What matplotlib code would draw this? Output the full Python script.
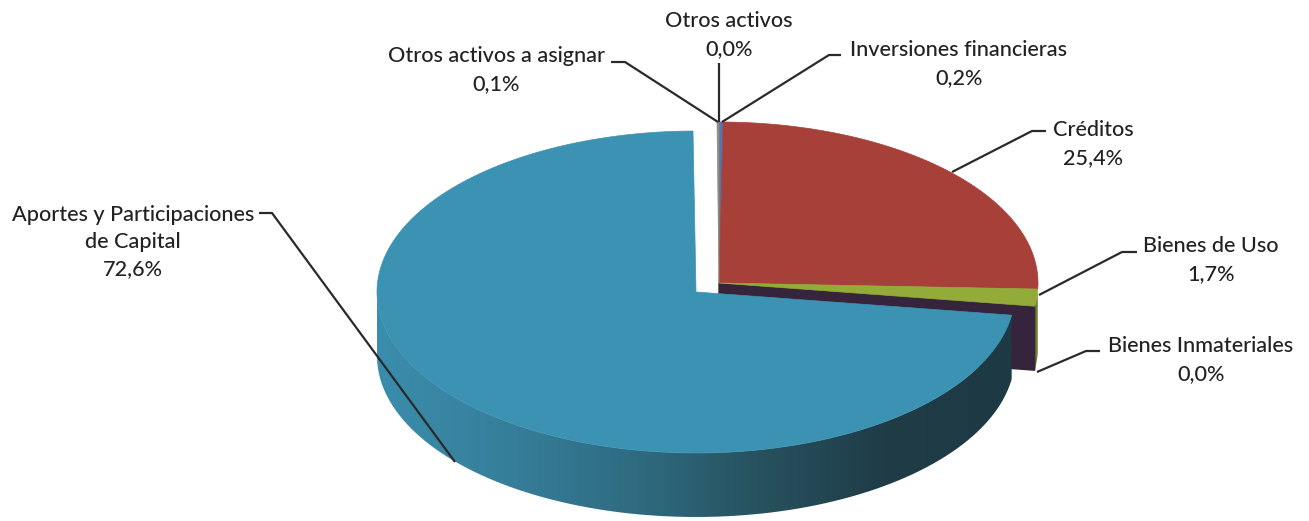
import numpy as np
import matplotlib
matplotlib.use('Agg')
import matplotlib.pyplot as plt
from matplotlib.patches import Polygon, PathPatch
from matplotlib.path import Path
from matplotlib.colors import LinearSegmentedColormap

# Values clockwise from the top of the pie
categories = ['Inversiones financieras', 'Créditos', 'Bienes de Uso', 'Bienes Inmateriales',
              'Aportes y Participaciones\nde Capital', 'Otros activos a asignar', 'Otros activos']
values = [0.2, 25.4, 1.7, 0.0, 72.6, 0.1, 0.0]
labels = ['0,2%', '25,4%', '1,7%', '0,0%', '72,6%', '0,1%', '0,0%']
colors = ['#4a78b8', '#a8403a', '#93ab38', '#35243c', '#3c92b2', '#9a8a70', '#888888']

RX, RY, DEPTH = 319, 161, 64
MAIN = (719, 283)    # centre of the small slices
BLUE = (696, 292)    # the big slice is pulled out to the lower left

plt.rcParams['font.family'] = ['Lato', 'DejaVu Sans']

fig = plt.figure(figsize=(13.09, 5.21), dpi=100)
ax = fig.add_axes([0, 0, 1, 1])
ax.set_xlim(0, 1309)
ax.set_ylim(521, 0)
ax.axis('off')


def rim(centre, start, stop, dy=0, n=200):
    # points on the ellipse, fractions in percent clockwise from the top
    t = np.radians(np.linspace(start, stop, n) * 3.6)
    return np.column_stack([centre[0] + RX * np.sin(t), centre[1] - RY * np.cos(t) + dy])


edges = np.cumsum([0] + values)

# side wall of the green slice
i = categories.index('Bienes de Uso')
side = rim(MAIN, edges[i], edges[i + 1])
wall = np.vstack([side, side[::-1] + [0, DEPTH]])
ax.add_patch(Polygon(wall, fc='#6f8230', ec='none', zorder=1))

# dark cut face below the small slices
end = rim(MAIN, edges[3], edges[3], n=1)[0]
face = [MAIN, end, end + [0, DEPTH], np.array(MAIN) + [0, DEPTH]]
ax.add_patch(Polygon(face, fc=colors[3], ec=colors[3], zorder=2))

# top of the small slices
for i in range(len(values)):
    if categories[i].startswith('Aportes') or values[i] == 0:
        continue
    poly = np.vstack([[MAIN], rim(MAIN, edges[i], edges[i + 1])])
    ax.add_patch(Polygon(poly, fc=colors[i], ec=colors[i], lw=0.5, zorder=3))

# side wall of the big slice with a gradient along x
k = categories.index('Aportes y Participaciones\nde Capital')
front = rim(BLUE, edges[k], 75)
wall = np.vstack([front, front[::-1] + [0, DEPTH]])
cmap = LinearSegmentedColormap.from_list('wall', ['#3a8dac', '#367f9b', '#2f6c82', '#27525f', '#1f3c47', '#1d3944'])
grad = ax.imshow(np.linspace(0, 1, 256).reshape(1, -1), extent=(wall[:, 0].min(), wall[:, 0].max(), 521, 0),
                 cmap=cmap, aspect='auto', zorder=4)
grad.set_clip_path(PathPatch(Path(np.vstack([wall, wall[0]])), transform=ax.transData))
ax.set_xlim(0, 1309)
ax.set_ylim(521, 0)

# top of the big slice
poly = np.vstack([[BLUE], rim(BLUE, edges[k], edges[k + 1] - 0.05)])
ax.add_patch(Polygon(poly, fc=colors[k], ec=colors[k], lw=0.5, zorder=5))

# leader lines
leaders = {
    'Aportes y Participaciones\nde Capital': [(259, 213), (272, 213), (455, 462)],
    'Otros activos a asignar': [(611, 62), (625, 62), (718, 122)],
    'Otros activos': [(719, 63), (719, 122)],
    'Inversiones financieras': [(841, 55), (829, 55), (722, 122)],
    'Créditos': [(1046, 131), (1032, 131), (952, 172)],
    'Bienes de Uso': [(1137, 252), (1122, 252), (1039, 295)],
    'Bienes Inmateriales': [(1100, 351), (1086, 351), (1037, 372)],
}
for name, pts in leaders.items():
    pts = np.array(pts)
    ax.plot(pts[:, 0], pts[:, 1], color='#2a2a2a', lw=1.6, zorder=6, solid_capstyle='butt')

# text positions, centred
text_pos = {
    'Aportes y Participaciones\nde Capital': (133, 242),
    'Otros activos a asignar': (496, 70),
    'Otros activos': (729, 35),
    'Inversiones financieras': (959, 64),
    'Créditos': (1093, 144),
    'Bienes de Uso': (1211, 260),
    'Bienes Inmateriales': (1201, 360),
}
for name, val in zip(categories, labels):
    x, y = text_pos[name]
    ax.text(x, y, name + '\n' + val, ha='center', va='center', fontsize=15.6, fontweight='medium',
            color='#222222', linespacing=1.45, zorder=7)

fig.savefig('out.png', dpi=100)
